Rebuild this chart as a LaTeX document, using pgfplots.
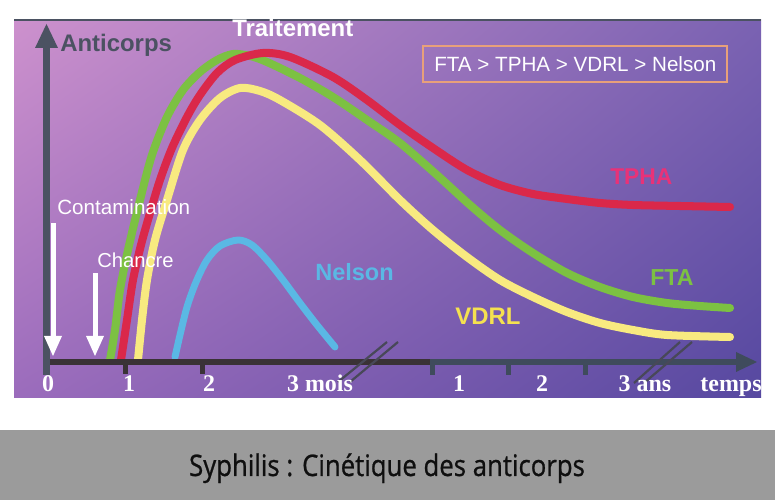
\documentclass[border=0pt]{standalone}
\usepackage{pgfplots}
\pgfplotsset{compat=1.18}
\usetikzlibrary{shadings}
\usepackage{fontspec}
\setmainfont{Liberation Sans}
\newfontfamily\serifb{Liberation Serif}
\newfontfamily\capfont[FakeStretch=0.87,FakeBold=0.8]{Open Sans}

\definecolor{fta}{RGB}{124,193,66}
\definecolor{tpha}{RGB}{218,40,74}
\definecolor{vdrl}{RGB}{248,234,128}
\definecolor{nelson}{RGB}{90,184,228}
\definecolor{tphatxt}{RGB}{232,50,120}
\definecolor{vdrltxt}{RGB}{245,225,80}
\definecolor{bgul}{RGB}{205,145,205}
\definecolor{bgur}{RGB}{122,98,178}
\definecolor{bgll}{RGB}{155,108,188}
\definecolor{bglr}{RGB}{86,72,160}
\definecolor{axisv}{RGB}{75,82,98}
\definecolor{axisdark}{RGB}{58,50,54}
\definecolor{axisslate}{RGB}{63,75,92}
\definecolor{breakc}{RGB}{72,72,88}
\definecolor{boxc}{RGB}{232,160,122}
\definecolor{band}{RGB}{155,155,155}
\definecolor{captxt}{RGB}{15,15,15}

\begin{document}
\begin{tikzpicture}
\begin{axis}[
    width=7.75in, height=5in, scale only axis,
    hide axis, clip=false,
    xmin=0, xmax=775, ymin=0, ymax=500, y dir=reverse,
    every axis plot/.append style={smooth, no markers, line cap=round, line join=round},
]
% frame and background
\fill[white] (axis cs:0,0) rectangle (axis cs:775,500);
\shade[upper left=bgul, upper right=bgur, lower left=bgll, lower right=bglr]
    (axis cs:14,20) rectangle (axis cs:761,398);
\draw[line width=1.2pt, axisv] (axis cs:14,20) -- (axis cs:761,20);
\fill[band] (axis cs:0,430) rectangle (axis cs:775,500);

% FTA
\addplot[fta, line width=5.8pt] coordinates {
    (110,360) (115,330) (120,290) (128,250) (140,200) (152,155) (167,117)
    (183,90) (200,72) (217,60) (233,54) (250,56) (267,62) (300,78) (333,97)
    (367,120) (400,143) (437,175) (470,205) (500,230) (533,253) (567,273)
    (600,287) (633,297) (667,303) (700,306) (730,308)};
% TPHA
\addplot[tpha, line width=5.8pt] coordinates {
    (121,360) (127,320) (133,280) (141,245) (150,213) (160,180) (172,148)
    (187,117) (200,95) (217,73) (235,60) (263,53) (290,57) (333,77) (367,100)
    (400,125) (433,148) (467,170) (500,185) (533,194) (567,199) (600,203)
    (633,205) (680,206) (730,207)};
% VDRL
\addplot[vdrl, line width=5.8pt] coordinates {
    (138,360) (142,320) (147,280) (155,240) (167,200) (183,150) (200,120)
    (220,98) (240,88) (260,91) (280,100) (320,125) (360,160) (400,200)
    (433,230) (467,257) (500,280) (533,297) (567,312) (600,323) (633,330)
    (667,335) (730,337)};
% Nelson
\addplot[nelson, line width=5pt] coordinates {
    (175,357) (180,335) (187,307) (196,282) (207,260) (220,246) (238,240)
    (252,245) (267,260) (283,280) (300,303) (317,325) (335,347)};

% time axis
\fill[axisdark] (axis cs:43,359) rectangle (axis cs:430,365);
\fill[axisslate] (axis cs:430,359) rectangle (axis cs:740,365);
\fill[axisslate] (axis cs:736,352) -- (axis cs:757,362) -- (axis cs:736,372) -- cycle;
\fill[axisdark] (axis cs:122.5,362) rectangle (axis cs:127.5,374);
\fill[axisdark] (axis cs:199.5,362) rectangle (axis cs:204.5,374);
\fill[axisslate] (axis cs:429.5,362) rectangle (axis cs:434.5,375);
\fill[axisslate] (axis cs:505.5,362) rectangle (axis cs:510.5,375);
\fill[axisslate] (axis cs:582.5,362) rectangle (axis cs:587.5,375);
% antibody axis
\fill[axisv] (axis cs:43,45) rectangle (axis cs:50,375);
\fill[axisv] (axis cs:35,48) -- (axis cs:46.5,24) -- (axis cs:58,48) -- cycle;
% breaks
\draw[breakc, line width=1.6pt] (axis cs:338,382) -- (axis cs:387,342);
\draw[breakc, line width=1.6pt] (axis cs:350,382) -- (axis cs:398,342);
\draw[breakc, line width=1.6pt] (axis cs:634,383) -- (axis cs:680,342);
\draw[breakc, line width=1.6pt] (axis cs:644,383) -- (axis cs:692,342);

% event arrows
\fill[white] (axis cs:50.5,223) rectangle (axis cs:55.5,340);
\fill[white] (axis cs:44,336) -- (axis cs:62,336) -- (axis cs:53,356) -- cycle;
\fill[white] (axis cs:92.5,273) rectangle (axis cs:97.5,340);
\fill[white] (axis cs:86,336) -- (axis cs:104,336) -- (axis cs:95,356) -- cycle;

% texts
\node[anchor=base west, inner sep=0, text=axisv, font=\bfseries\fontsize{17.3}{20}\selectfont]
    at (axis cs:60,52) {Anticorps};
\node[anchor=base west, inner sep=0, text=white, font=\bfseries\fontsize{17.3}{20}\selectfont]
    at (axis cs:232,37) {Traitement};
\draw[boxc, line width=1.6pt] (axis cs:423,46) rectangle (axis cs:727,82);
\node[anchor=base west, inner sep=0, text=white, font=\fontsize{14.9}{18}\selectfont]
    at (axis cs:434,72) {FTA > TPHA > VDRL > Nelson};
\node[anchor=base west, inner sep=0, text=white, font=\fontsize{14.9}{18}\selectfont]
    at (axis cs:57,215) {Contamination};
\node[anchor=base west, inner sep=0, text=white, font=\fontsize{14.6}{18}\selectfont]
    at (axis cs:97,268) {Chancre};
\node[anchor=base west, inner sep=0, text=nelson, font=\bfseries\fontsize{17}{20}\selectfont]
    at (axis cs:315,281) {Nelson};
\node[anchor=base west, inner sep=0, text=tphatxt, font=\bfseries\fontsize{16.5}{20}\selectfont]
    at (axis cs:610,185) {TPHA};
\node[anchor=base west, inner sep=0, text=fta, font=\bfseries\fontsize{16.7}{20}\selectfont]
    at (axis cs:650,286) {FTA};
\node[anchor=base west, inner sep=0, text=vdrltxt, font=\bfseries\fontsize{17.3}{20}\selectfont]
    at (axis cs:455,325) {VDRL};

% time labels
\node[anchor=base, inner sep=0, text=white, font=\serifb\bfseries\fontsize{17.3}{20}\selectfont] at (axis cs:48,392) {0};
\node[anchor=base, inner sep=0, text=white, font=\serifb\bfseries\fontsize{17.3}{20}\selectfont] at (axis cs:129,392) {1};
\node[anchor=base, inner sep=0, text=white, font=\serifb\bfseries\fontsize{17.3}{20}\selectfont] at (axis cs:209,392) {2};
\node[anchor=base, inner sep=0, text=white, font=\serifb\bfseries\fontsize{17.3}{20}\selectfont] at (axis cs:320,392) {3 mois};
\node[anchor=base, inner sep=0, text=white, font=\serifb\bfseries\fontsize{17.3}{20}\selectfont] at (axis cs:459,392) {1};
\node[anchor=base, inner sep=0, text=white, font=\serifb\bfseries\fontsize{17.3}{20}\selectfont] at (axis cs:542,392) {2};
\node[anchor=base, inner sep=0, text=white, font=\serifb\bfseries\fontsize{17.3}{20}\selectfont] at (axis cs:645,392) {3 ans};
\node[anchor=base, inner sep=0, text=white, font=\serifb\bfseries\fontsize{17.3}{20}\selectfont] at (axis cs:731,392) {temps};

% caption
\node[anchor=base, inner sep=0, text=captxt, font=\capfont\fontsize{21.4}{24}\selectfont]
    at (axis cs:387,476) {Syphilis : Cinétique des anticorps};
\path (axis cs:0,0) rectangle (axis cs:775,500);
\end{axis}
\end{tikzpicture}
\end{document}
